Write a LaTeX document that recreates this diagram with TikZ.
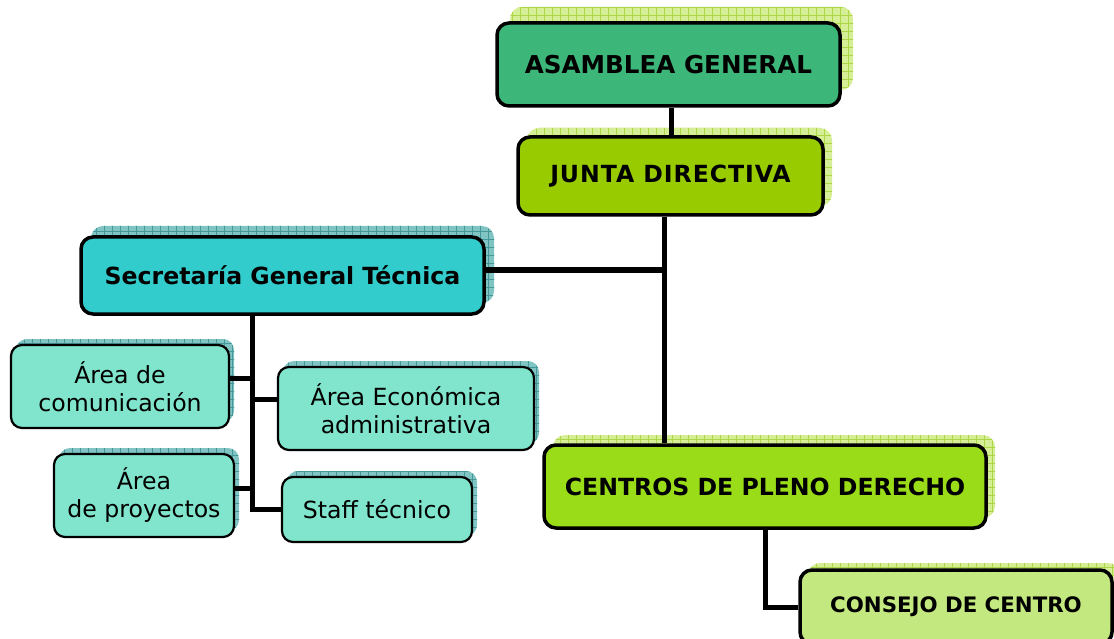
\documentclass[tikz,border=0pt]{standalone}
\usepackage{fontspec}
\setmainfont{DejaVu Sans}
\usepackage{tikz}
\usetikzlibrary{shadows}
\usetikzlibrary{patterns.meta}

\definecolor{asambleafill}{RGB}{61,182,122}
\definecolor{juntafill}{RGB}{153,204,0}
\definecolor{centrosfill}{RGB}{155,220,25}
\definecolor{consejofill}{RGB}{196,232,128}
\definecolor{secretfill}{RGB}{51,204,204}
\definecolor{areafill}{RGB}{128,229,204}
\definecolor{shadegreen}{RGB}{214,238,150}
\definecolor{gridgreen}{RGB}{172,214,70}
\definecolor{shadeteal}{RGB}{128,196,196}
\definecolor{gridteal}{RGB}{70,152,152}

\begin{document}
\begin{tikzpicture}[x=1pt,y=-1pt,
    unit/.style={draw=black, line width=3.5pt, rounded corners=12pt, align=center,
        inner sep=0pt, font=\fontsize{23.6}{28}\selectfont\bfseries},
    area/.style={draw=black, line width=2.2pt, rounded corners=11pt, fill=areafill,
        align=center, inner sep=0pt, font=\fontsize{23.6}{28}\selectfont,
        tealshade={5pt}{6pt}},
    greenshade/.style 2 args={general shadow={fill=shadegreen, shadow xshift=#1, shadow yshift=#2},
        general shadow={pattern={Hatch[angle=0,distance=8pt,line width=0.6pt]}, pattern color=gridgreen,
        shadow xshift=#1, shadow yshift=#2}},
    tealshade/.style 2 args={general shadow={fill=shadeteal, shadow xshift=#1, shadow yshift=#2},
        general shadow={pattern={Hatch[angle=0,distance=8pt,line width=0.6pt]}, pattern color=gridteal,
        shadow xshift=#1, shadow yshift=#2}},
    link/.style={line width=5pt}]

    \useasboundingbox (0,0) rectangle (1114,639);

    % top of the chart
    \node[unit, fill=asambleafill, greenshade={13pt}{16pt}, minimum width=343pt, minimum height=83pt]
        (asamblea) at (668.5,64.5) {\fontsize{24.6}{28}\selectfont ASAMBLEA GENERAL};
    \node[unit, fill=juntafill, greenshade={9pt}{9pt}, minimum width=305pt, minimum height=78pt]
        (junta) at (670.5,176) {\addfontfeature{LetterSpace=4}JUNTA DIRECTIVA};
    \node[unit, fill=secretfill, tealshade={10pt}{11pt}, minimum width=403pt, minimum height=77pt]
        (secretaria) at (282.5,275.5) {Secretaría General Técnica};
    \node[unit, fill=centrosfill, greenshade={9pt}{10pt}, minimum width=442pt, minimum height=83pt]
        (centros) at (765,486.5) {CENTROS DE PLENO DERECHO};
    \node[unit, fill=consejofill, greenshade={8pt}{7pt}, minimum width=312pt, minimum height=74pt]
        (consejo) at (956,607) {\fontsize{21.3}{28}\selectfont CONSEJO DE CENTRO};

    % areas of the secretaria
    \node[area, minimum width=218pt, minimum height=83pt] (comunicacion) at (120,386.5) {Área de\\comunicación};
    \node[area, minimum width=256pt, minimum height=83pt] (economica) at (406,408.5) {Área Económica\\administrativa};
    \node[area, minimum width=180pt, minimum height=83pt] (proyectos) at (144,495.5) {Área\\de proyectos};
    \node[area, minimum width=190pt, minimum height=65pt] (staff) at (377,509.5) {Staff técnico};

    \draw[link] ([xshift=3pt]asamblea.south) -- ([xshift=3pt]asamblea.south |- junta.north);
    \draw[link] ([xshift=-6.5pt]junta.south) -- ([xshift=-6.5pt]junta.south |- centros.north);
    \draw[link] ([yshift=5.5pt]secretaria.east) -- ([yshift=5.5pt,xshift=-6.5pt]secretaria.east -| junta.south);
    \draw[link] (centros.south) |- (consejo.west);

    \coordinate (trunk) at ([xshift=-30.5pt]secretaria.south);
    \draw[link] (trunk) |- (staff.west);
    \draw[link] ([yshift=8.5pt]comunicacion.east) -| (trunk);
    \draw[link] ([yshift=9.5pt]economica.west) -| (trunk);
    \draw[link] ([yshift=7.5pt]proyectos.east) -| (trunk);

\end{tikzpicture}
\end{document}
